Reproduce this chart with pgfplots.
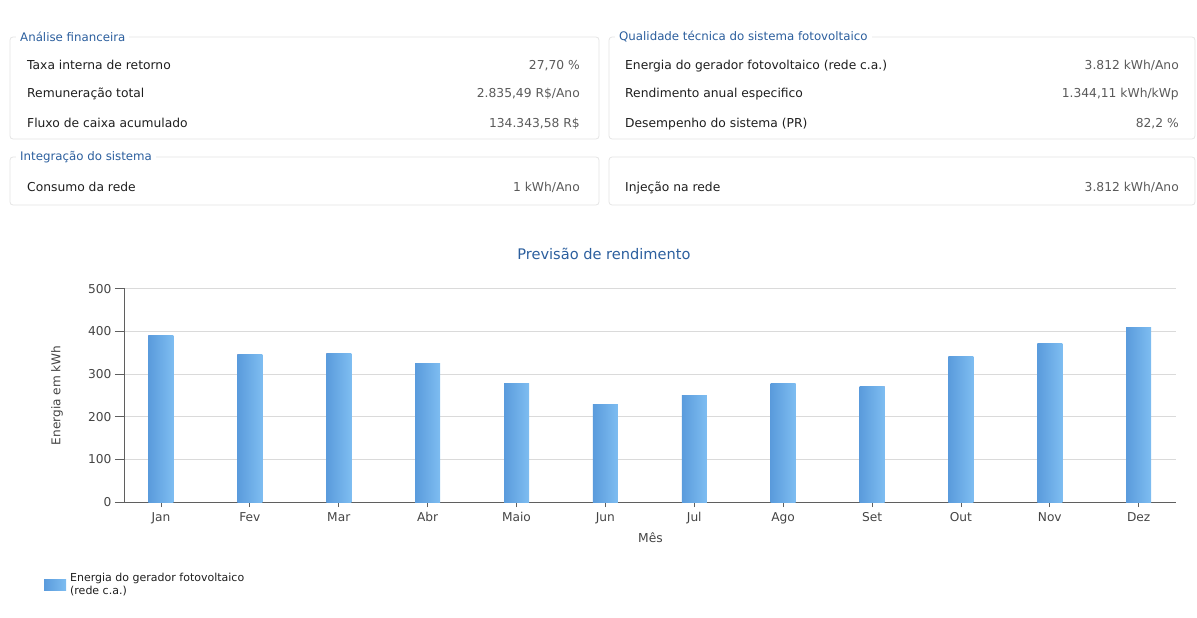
\documentclass[border=0pt]{standalone}
\usepackage{fontspec}
\setmainfont{DejaVu Sans}
\usepackage{pgfplots}
\pgfplotsset{compat=1.18}
\definecolor{ttl}{HTML}{2C5F9E}
\definecolor{boxc}{HTML}{E4E4E4}
\definecolor{lbl}{HTML}{1E1E1E}
\definecolor{val}{HTML}{5A5A5A}
\definecolor{barL}{HTML}{5A9BDC}
\definecolor{barR}{HTML}{7EBDF1}
\definecolor{axc}{HTML}{5F5F5F}
\definecolor{gridc}{HTML}{DADADA}
\definecolor{tickc}{HTML}{444444}
\newcommand{\rowfont}{\fontsize{12.3}{14}\selectfont}
\newcommand{\ttlfont}{\fontsize{11.8}{13}\selectfont}
\begin{document}
\begin{tikzpicture}
\begin{scope}[x=1pt,y=-1pt]
\path[use as bounding box] (0,0) rectangle (1197,618);
\foreach \a/\b/\c/\d in {10/37/599/139, 609/37/1195/139, 10/157/599/205, 609/157/1195/205}
  \draw[boxc, line width=0.8pt, rounded corners=3pt] (\a,\b) rectangle (\c,\d);
\node[anchor=west, fill=white, text=ttl, font=\ttlfont, inner xsep=4pt, inner ysep=1pt] at (16,37) {Análise financeira};
\node[anchor=west, fill=white, text=ttl, font=\ttlfont, inner xsep=4pt, inner ysep=1pt] at (615,37) {Qualidade técnica do sistema fotovoltaico};
\node[anchor=west, fill=white, text=ttl, font=\ttlfont, inner xsep=4pt, inner ysep=1pt] at (16,157) {Integração do sistema};
\begin{scope}[every node/.style={font=\rowfont, inner sep=0pt}]
\node[anchor=mid west, text=lbl] at (27,66.5) {Taxa interna de retorno};
\node[anchor=mid west, text=lbl] at (27,95) {Remuneração total};
\node[anchor=mid west, text=lbl] at (27,124.5) {Fluxo de caixa acumulado};
\node[anchor=mid east, text=val] at (580,66.5) {27,70 \%};
\node[anchor=mid east, text=val] at (580,95) {2.835,49 R\$/Ano};
\node[anchor=mid east, text=val] at (580,124.5) {134.343,58 R\$};
\node[anchor=mid west, text=lbl] at (625,66.5) {Energia do gerador fotovoltaico (rede c.a.)};
\node[anchor=mid west, text=lbl] at (625,95) {Rendimento anual especifico};
\node[anchor=mid west, text=lbl] at (625,124.5) {Desempenho do sistema (PR)};
\node[anchor=mid east, text=val] at (1179,66.5) {3.812 kWh/Ano};
\node[anchor=mid east, text=val] at (1179,95) {1.344,11 kWh/kWp};
\node[anchor=mid east, text=val] at (1179,124.5) {82,2 \%};
\node[anchor=mid west, text=lbl] at (27,189) {Consumo da rede};
\node[anchor=mid east, text=val] at (580,189) {1 kWh/Ano};
\node[anchor=mid west, text=lbl] at (625,189) {Injeção na rede};
\node[anchor=mid east, text=val] at (1179,189) {3.812 kWh/Ano};
\end{scope}
\end{scope}
\begin{axis}[
  at={(125pt,-502pt)}, anchor=south west,
  width=1051pt, height=213.4pt, scale only axis,
  xmin=-0.405, xmax=11.42, ymin=0, ymax=500,
  axis x line*=bottom, axis y line*=left,
  axis line style={axc, line width=1pt},
  xtick={0,...,11},
  xticklabels={Jan,Fev,Mar,Abr,Maio,Jun,Jul,Ago,Set,Out,Nov,Dez},
  ytick={0,100,...,500},
  tick align=outside, major tick length=10pt,
  tick style={axc, line width=0.8pt},
  xtick style={/pgfplots/major tick length=5pt},
  xticklabel style={yshift=3pt},
  ymajorgrids, grid style={gridc, line width=0.8pt},
  ticklabel style={font=\fontsize{12.2}{14}\selectfont, text=tickc},
  /pgf/number format/assume math mode=true,
  title={Previsão de rendimento},
  title style={at={(0.4557,1.134)}, anchor=center, font=\fontsize{14.6}{17}\selectfont, text=ttl},
  xlabel={Mês}, ylabel={Energia em kWh},
  every axis x label/.style={at={(0.5,-0.169)}, anchor=center, font=\fontsize{12.3}{14}\selectfont, text=tickc},
  every axis y label/.style={at={(-0.0647,0.5)}, rotate=90, anchor=center, font=\fontsize{12.1}{14}\selectfont, text=tickc},
  ybar, bar width=25pt, bar shift=0pt,
  legend cell align=left,
  legend style={draw=none, fill=none, at={(-0.0771,-0.323)}, anchor=north west,
    inner sep=0pt, font=\fontsize{11}{13}\selectfont, text=lbl,
    cells={align=left}, nodes={inner xsep=4pt}},
  legend image code/.code={\fill (0pt,-5.5pt) rectangle (22pt,5.5pt);},
  every axis plot/.append style={draw=none, left color=barL, right color=barR},
]
\addplot coordinates {(0,391)};
\addlegendentry{Energia do gerador fotovoltaico\\(rede c.a.)}
\addplot+[forget plot] coordinates {(1,346)};
\addplot+[forget plot] coordinates {(2,349)};
\addplot+[forget plot] coordinates {(3,324)};
\addplot+[forget plot] coordinates {(4,277)};
\addplot+[forget plot] coordinates {(5,228)};
\addplot+[forget plot] coordinates {(6,249)};
\addplot+[forget plot] coordinates {(7,277)};
\addplot+[forget plot] coordinates {(8,271)};
\addplot+[forget plot] coordinates {(9,340)};
\addplot+[forget plot] coordinates {(10,371)};
\addplot+[forget plot] coordinates {(11,409)};
\end{axis}
\end{tikzpicture}
\end{document}
